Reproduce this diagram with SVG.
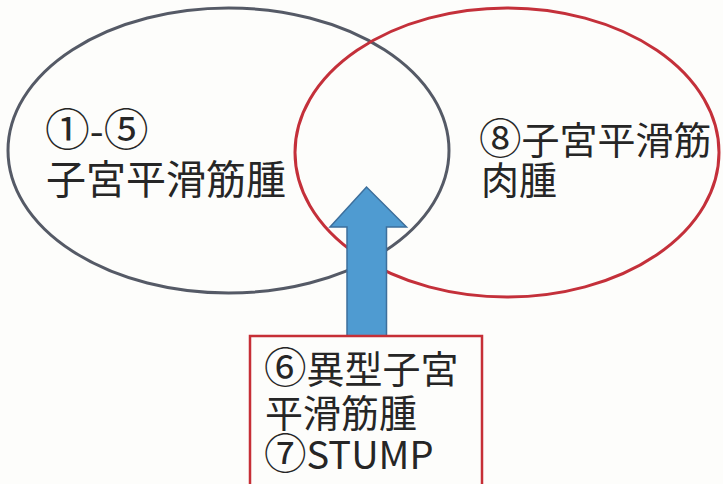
<svg xmlns="http://www.w3.org/2000/svg" width="723" height="484" viewBox="0 0 723 484">
  <style>
    .t { font-family: "Noto Sans CJK JP", "Noto Sans", sans-serif; fill: #262626; font-weight: 400; }
    .c { font-size: 1.12em; }
    .ell { fill: none; stroke-width: 3; }
  </style>
  <rect x="0" y="0" width="723" height="484" fill="#fdfdfb"/>
  <g id="set-leiomyoma">
    <ellipse class="ell" cx="228.5" cy="150.5" rx="220.5" ry="142.5" stroke="#555a66"/>
    <text class="t" x="45" y="146" font-size="40"><tspan class="c">①</tspan>-<tspan class="c">⑤</tspan></text>
    <text class="t" x="46" y="194" font-size="40">子宮平滑筋腫</text>
  </g>
  <g id="set-leiomyosarcoma">
    <ellipse class="ell" cx="507" cy="152.5" rx="212" ry="144.5" stroke="#c4303a"/>
    <text class="t" x="479" y="154" font-size="38"><tspan class="c">⑧</tspan>子宮平滑筋</text>
    <text class="t" x="481" y="194" font-size="38">肉腫</text>
  </g>
  <g id="connectors">
    <path d="M347,336 L347,227 L330,227 L366.5,187 L406.5,227 L386.5,227 L386.5,336 Z" fill="#4f9bd1" stroke="#3d6f9c" stroke-width="1.5" stroke-linejoin="miter"/>
  </g>
  <g id="box-atypical">
    <rect x="250" y="336" width="232" height="160" fill="#fdfdfb" stroke="#c62f36" stroke-width="2.5"/>
    <text class="t" x="264" y="383" font-size="38"><tspan class="c">⑥</tspan>異型子宮</text>
    <text class="t" x="265" y="427" font-size="38">平滑筋腫</text>
    <text class="t" x="264" y="469" font-size="38"><tspan class="c">⑦</tspan>STUMP</text>
  </g>
</svg>
